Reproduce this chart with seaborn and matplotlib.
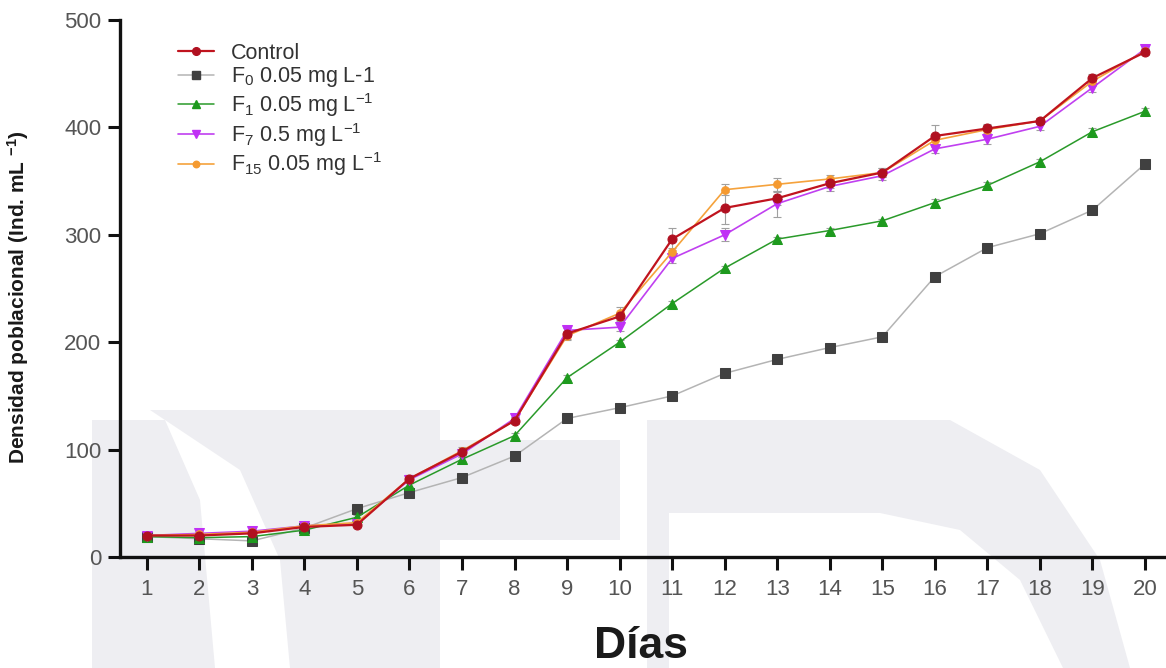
import numpy as np
import pandas as pd
import matplotlib
matplotlib.use("Agg")
import matplotlib.pyplot as plt
import seaborn as sns
from matplotlib.patches import Polygon
from matplotlib.lines import Line2D

# ---------------- data ----------------
days = list(range(1, 21))
control = [20, 20, 22, 28, 30, 73, 98, 127, 208, 224, 296, 325, 334, 348, 358, 392, 399, 406, 446, 470]
f0 = [19, 17, 15, 27, 45, 60, 74, 94, 129, 139, 150, 171, 184, 195, 205, 261, 288, 301, 323, 366]
f1 = [19, 18, 19, 25, 37, 67, 91, 113, 167, 200, 236, 269, 296, 304, 313, 330, 346, 368, 396, 415]
f7 = [20, 22, 24, 29, 31, 72, 96, 129, 211, 214, 278, 300, 329, 345, 355, 380, 389, 401, 437, 473]
f15 = [20, 21, 23, 29, 32, 73, 99, 127, 206, 227, 284, 342, 347, 352, 358, 388, 398, 406, 443, 471]

err_control = [2, 2, 2, 2, 2, 3, 3, 3, 5, 4, 10, 15, 6, 4, 4, 10, 4, 3, 4, 3]
err_f0 = [1, 1, 1, 1, 2, 2, 2, 2, 2, 2, 2, 2, 2, 2, 2, 3, 3, 3, 3, 3]
err_f1 = [1, 1, 1, 1, 2, 2, 2, 2, 2, 2, 2, 2, 2, 2, 2, 3, 3, 3, 3, 3]
err_f7 = [2, 2, 2, 2, 2, 3, 3, 3, 4, 4, 4, 6, 12, 4, 4, 4, 4, 3, 4, 3]
err_f15 = [2, 2, 2, 2, 2, 3, 3, 3, 4, 6, 4, 5, 6, 4, 4, 4, 4, 3, 4, 3]

labels = ["Control",
          r"F$_0$ 0.05 mg L-1",
          r"F$_1$ 0.05 mg L$^{-1}$",
          r"F$_7$ 0.5 mg L$^{-1}$",
          r"F$_{15}$ 0.05 mg L$^{-1}$"]
series = [control, f0, f1, f7, f15]
errors = [err_control, err_f0, err_f1, err_f7, err_f15]

colors = {labels[0]: "#C0141E", labels[1]: "#B4B4B4", labels[2]: "#2A9A2A",
          labels[3]: "#C040F0", labels[4]: "#F5A23C"}
mcolors = {labels[0]: "#B01020", labels[1]: "#404040", labels[2]: "#1E9A1E",
           labels[3]: "#C030F5", labels[4]: "#F59A30"}
markers = {labels[0]: "o", labels[1]: "s", labels[2]: "^", labels[3]: "v", labels[4]: "o"}
msizes = {labels[0]: 6.5, labels[1]: 6.5, labels[2]: 7, labels[3]: 7.5, labels[4]: 5.5}
lwidths = {labels[0]: 1.6, labels[1]: 1.1, labels[2]: 1.1, labels[3]: 1.2, labels[4]: 1.2}

rows = []
for lab, vals in zip(labels, series):
    for d, v in zip(days, vals):
        rows.append({"Día": d, "Densidad": v, "Tratamiento": lab})
df = pd.DataFrame(rows)

# draw order: control on top
draw_order = [labels[1], labels[2], labels[3], labels[4], labels[0]]

# ---------------- style ----------------
sns.set_style("white")
plt.rcParams["font.family"] = ["Liberation Sans", "DejaVu Sans"]
plt.rcParams["mathtext.fontset"] = "custom"
plt.rcParams["mathtext.rm"] = "Liberation Sans"
plt.rcParams["mathtext.it"] = "Liberation Sans"
plt.rcParams["mathtext.bf"] = "Liberation Sans:bold"

fig = plt.figure(figsize=(11.66, 6.68), dpi=100)
W, H = 1166, 668

def px(x, y):
    return (x / W, 1 - y / H)

# faint watermark shapes in the background
wm = "#eeeef2"
shapes = [
    [px(92, 420), px(165, 420), px(200, 500), px(215, 668), px(92, 668)],
    [px(150, 410), px(440, 410), px(440, 668), px(290, 668), px(280, 560), px(240, 470)],
    [px(440, 440), px(620, 440), px(620, 540), px(440, 540)],
    [px(647, 420), px(950, 420), px(1040, 470), px(1100, 560), px(1130, 668),
     px(1063, 668), px(1020, 580), px(960, 530), px(880, 513), px(669, 513), px(669, 668), px(647, 668)],
]
for s in shapes:
    fig.patches.append(Polygon(s, closed=True, transform=fig.transFigure,
                               facecolor=wm, edgecolor="none", zorder=-5))

ax = fig.add_axes([120 / W, 1 - 557 / H, (1166 - 120) / W, (557 - 20) / H])
ax.patch.set_alpha(0)
ax.set_zorder(1)

sns.lineplot(data=df, x="Día", y="Densidad", hue="Tratamiento", style="Tratamiento",
             hue_order=draw_order, style_order=draw_order,
             palette=colors, markers=markers, dashes=False, ax=ax, legend=False,
             zorder=3)

for line, lab in zip(ax.get_lines(), draw_order):
    line.set_markersize(msizes[lab])
    line.set_markerfacecolor(mcolors[lab])
    line.set_markeredgecolor(mcolors[lab])
    line.set_linewidth(lwidths[lab])

for lab, vals, err in zip(labels, series, errors):
    ax.errorbar(days, vals, yerr=err, fmt="none", ecolor="#A0A0A0",
                elinewidth=0.8, capsize=3, capthick=0.8, zorder=2)

ax.set_xlim(0.49, 20.4)
ax.set_ylim(0, 500)
ax.set_xticks(days)
ax.set_yticks([0, 100, 200, 300, 400, 500])

for side in ["top", "right"]:
    ax.spines[side].set_visible(False)
for side in ["left", "bottom"]:
    ax.spines[side].set_linewidth(2.4)
    ax.spines[side].set_color("#111111")

ax.tick_params(axis="both", which="major", direction="out", bottom=True, left=True,
               width=2.2, color="#111111", labelsize=16, labelcolor="#555555")
ax.tick_params(axis="x", length=9.5, pad=6)
ax.tick_params(axis="y", length=8.5, pad=5)

ax.set_xlabel("")
ax.set_ylabel("")
fig.text(18 / W, 1 - 297 / H, "Densidad poblacional (Ind. mL $^{\\mathbf{-1}}$)",
         rotation=90, ha="center", va="center", fontsize=15, fontweight="bold",
         color="#1a1a1a")
fig.text(641 / W, 1 - 646 / H, "Días", ha="center", va="center", fontsize=32,
         fontweight="bold", color="#1a1a1a")

handles = [Line2D([0], [0], color=colors[l], lw=lwidths[l], marker=markers[l],
                  markersize=msizes[l] * 0.85, markerfacecolor=mcolors[l],
                  markeredgecolor=mcolors[l]) for l in labels]
leg = ax.legend(handles, labels, loc="upper left", bbox_to_anchor=(0.055, 0.958),
                frameon=False, fontsize=15.5, handlelength=1.7, labelspacing=0.08,
                handletextpad=0.8, borderaxespad=0, borderpad=0)
for t in leg.get_texts():
    t.set_color("#333333")

fig.savefig("out.png", dpi=100)
